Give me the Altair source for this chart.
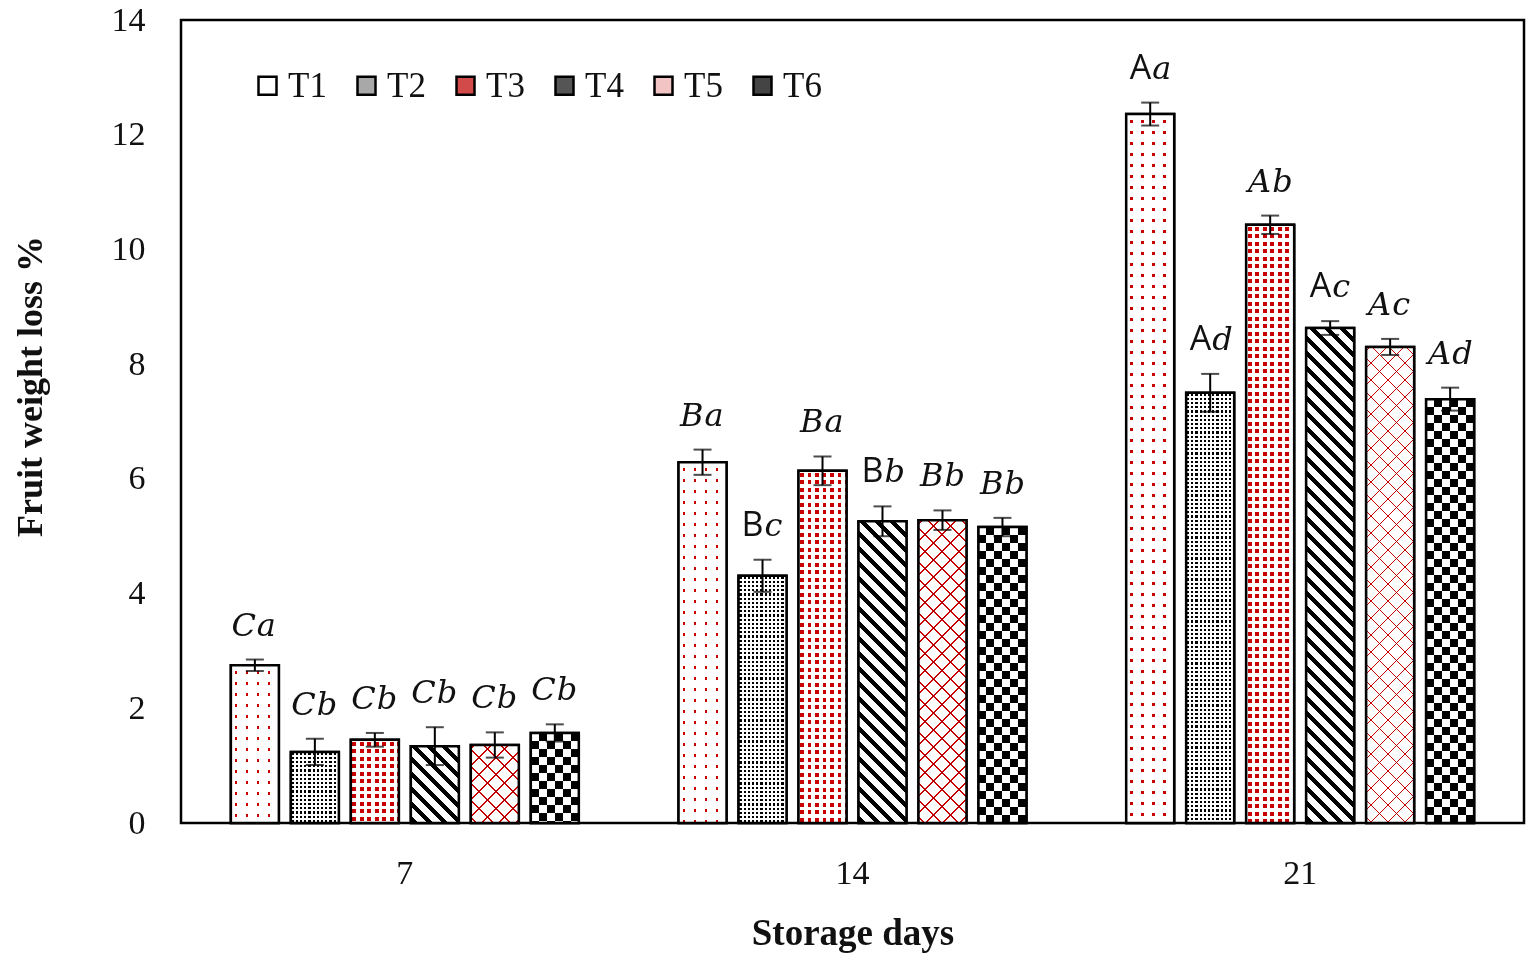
import math
import altair as alt
import pandas as pd

# ---------------- data ----------------
treatments = ["T1", "T2", "T3", "T4", "T5", "T6"]
days = ["7", "14", "21"]

mean_d7 = [2.75, 1.24, 1.45, 1.34, 1.36, 1.57]
err_d7 = [0.10, 0.23, 0.12, 0.33, 0.22, 0.15]
mean_d14 = [6.29, 4.31, 6.14, 5.26, 5.28, 5.16]
err_d14 = [0.22, 0.28, 0.25, 0.26, 0.17, 0.16]
mean_d21 = [12.36, 7.50, 10.43, 8.63, 8.30, 7.39]
err_d21 = [0.20, 0.33, 0.16, 0.12, 0.14, 0.20]

labels_d7 = ["Ca", "Cb", "Cb", "Cb", "Cb", "Cb"]
labels_d14 = ["Ba", "Bc", "Ba", "Bb", "Bb", "Bb"]
labels_d21 = ["Aa", "Ad", "Ab", "Ac", "Ac", "Ad"]
upright_d7 = [False, False, False, False, False, False]
upright_d14 = [False, True, False, True, False, False]
upright_d21 = [True, True, False, True, False, False]

y_ticks = [0, 2, 4, 6, 8, 10, 12, 14]
legend_colors = ["#ffffff", "#a8a8a8", "#d24a4a", "#555555", "#f2c4c4", "#444444"]

rows = []
for d, ms, es, ls, us in [
    ("7", mean_d7, err_d7, labels_d7, upright_d7),
    ("14", mean_d14, err_d14, labels_d14, upright_d14),
    ("21", mean_d21, err_d21, labels_d21, upright_d21),
]:
    for t, m, e, l, u in zip(treatments, ms, es, ls, us):
        rows.append(dict(day=d, trt=t, mean=m, err=e, lo=m - e, hi=m + e,
                         cap=l[0], low=l[1], upright=u))
df = pd.DataFrame(rows)

# ---------------- geometry used only for pattern scaling ----------------
PLOT_W, PLOT_H = 1343, 803
X_PI, X_PO = 0.196, 0.098
O_PI, O_PO = 0.2, 0.1
step_x = PLOT_W / (3 - X_PI + 2 * X_PO)
band_x = step_x * (1 - X_PI)
step_o = band_x / (6 - O_PI + 2 * O_PO)
BAR_W = step_o * (1 - O_PI)
PX_PER_UNIT = PLOT_H / 14.0


def stripe_stops(L, period, on, c_on, c_off, phase=0.0):
    def color_at(x):
        r = (x - phase) % period
        return c_on if r < on else c_off

    bounds = set()
    k = math.floor((0 - phase) / period) - 1
    while phase + k * period <= L:
        for b in (phase + k * period, phase + k * period + on):
            if 0 < b < L:
                bounds.add(round(b, 4))
        k += 1
    bounds = sorted(bounds)
    stops = [alt.GradientStop(offset=0, color=color_at(0.0001))]
    prev = 0.0
    for b in bounds:
        cb = color_at((prev + b) / 2)
        ca = color_at(b + 0.0001)
        o = round(b / L, 6)
        stops.append(alt.GradientStop(offset=o, color=cb))
        stops.append(alt.GradientStop(offset=o, color=ca))
        prev = b
    stops.append(alt.GradientStop(offset=1, color=color_at((prev + L) / 2)))
    return stops


def grad_x(w, period, on, c_on, c_off, phase=0.0):
    return alt.LinearGradient(gradient="linear",
                              stops=stripe_stops(w, period, on, c_on, c_off, phase),
                              x1=0, y1=0, x2=1, y2=0)


def grad_y(h, period, on, c_on, c_off, phase=0.0):
    return alt.LinearGradient(gradient="linear",
                              stops=stripe_stops(h, period, on, c_on, c_off, phase),
                              x1=0, y1=0, x2=0, y2=1)


def grad_diag(w, h, period, on, c_on, c_off, back=True, phase=0.0):
    L = w + h
    if back:  # "\" stripes
        a, b = w / L, -h / L
        x1, y1 = 0.0, 1.0
    else:  # "/" stripes
        a, b = w / L, h / L
        x1, y1 = 0.0, 0.0
    n = a * a + b * b
    dx, dy = a / n, b / n
    return alt.LinearGradient(gradient="linear",
                              stops=stripe_stops(L, period, on, c_on, c_off, phase),
                              x1=x1, y1=y1, x2=round(x1 + dx, 6), y2=round(y1 + dy, 6))


# ---------------- chart ----------------
SERIF = "Liberation Serif"

base = alt.Chart(df).encode(
    x=alt.X("day:N", sort=days,
            scale=alt.Scale(domain=days, paddingInner=X_PI, paddingOuter=X_PO),
            axis=alt.Axis(title="Storage days", labelAngle=0, ticks=False, tickSize=0,
                          domain=False, grid=False, labelPadding=33,
                          labelFont=SERIF, labelFontSize=34, labelColor="#111",
                          titleFont=SERIF, titleFontSize=37, titleFontWeight="bold",
                          titleColor="#111", titleY=121, titleBaseline="alphabetic")),
    xOffset=alt.XOffset("trt:N",
                        scale=alt.Scale(domain=treatments, paddingInner=O_PI, paddingOuter=O_PO)),
)

Y_AXIS = alt.Axis(title="Fruit weight loss %", values=y_ticks, ticks=False,
                  tickSize=0, domain=False, grid=False, labelPadding=36,
                  labelFont=SERIF, labelFontSize=34, labelColor="#111",
                  titleFont=SERIF, titleFontSize=36, titleFontWeight="bold",
                  titleColor="#111", titleAngle=270, titleX=-140, titleY=366,
                  titleBaseline="alphabetic", titleAlign="center")
Y_SCALE = alt.Scale(domain=[0, 14], nice=False, zero=True)


def yenc(field):
    return alt.Y(field, scale=Y_SCALE, axis=Y_AXIS, title="Fruit weight loss %")


bars = base.mark_bar(stroke="black", strokeWidth=2.5).encode(
    y=yenc("mean:Q"),
    fill=alt.Fill("trt:N",
                  scale=alt.Scale(domain=treatments, range=legend_colors),
                  legend=alt.Legend(title=None, orient="none", legendX=69, legendY=48,
                                    direction="horizontal", symbolType="square",
                                    symbolSize=324, symbolStrokeColor="black",
                                    symbolStrokeWidth=2.5, symbolOpacity=1,
                                    labelFont=SERIF, labelFontSize=35, labelColor="#111",
                                    labelOffset=3, columnPadding=22, padding=0)),
)

layers = [bars]


def overlay(day, trt, fill, blend=None):
    kw = dict(fill=fill, strokeWidth=0)
    if blend:
        kw["blend"] = blend
    return (base.transform_filter((alt.datum.day == day) & (alt.datum.trt == trt))
            .mark_bar(**kw).encode(y=yenc("mean:Q")))


RED = "#c80000"
for r in rows:
    d, t = r["day"], r["trt"]
    w = BAR_W
    h = r["mean"] * PX_PER_UNIT
    if t == "T1":
        layers.append(overlay(d, t, grad_x(w, 11, 2.6, "black", "white", 4)))
        layers.append(overlay(d, t, grad_y(h, 11, 2.6, "black", "white", 6), "lighten"))
        layers.append(overlay(d, t, RED, "screen"))
    elif t == "T2":
        layers.append(overlay(d, t, grad_x(w, 4.2, 2.2, "black", "white", 0.8)))
        layers.append(overlay(d, t, grad_y(h, 4.2, 2.2, "black", "white", 0.8), "lighten"))
    elif t == "T3":
        layers.append(overlay(d, t, grad_x(w, 7.5, 3.9, "black", "white", 1.5)))
        layers.append(overlay(d, t, grad_y(h, 7.5, 3.9, "black", "white", 2), "lighten"))
        layers.append(overlay(d, t, RED, "screen"))
    elif t == "T4":
        layers.append(overlay(d, t, grad_diag(w, h, 15, 6, "black", "white", True, 2)))
    elif t == "T5":
        layers.append(overlay(d, t, grad_diag(w, h, 17, 1.6, RED, "white", False, 3)))
        layers.append(overlay(d, t, grad_diag(w, h, 17, 1.6, RED, "white", True, 5), "multiply"))
    elif t == "T6":
        layers.append(overlay(d, t, grad_x(w, 16, 8, "black", "white", 0)))
        layers.append(overlay(d, t, grad_y(h, 16, 8, "white", "black", 0), "difference"))

outline = base.mark_bar(fill="white", fillOpacity=0, stroke="black", strokeWidth=2.5).encode(
    y=yenc("mean:Q"))
layers.append(outline)

stem = base.mark_rule(color="black", strokeWidth=2).encode(
    y=yenc("lo:Q"), y2="hi:Q")
cap_hi = base.mark_tick(orient="horizontal", size=18, thickness=2, color="black").encode(
    y=yenc("hi:Q"))
cap_lo = base.mark_tick(orient="horizontal", size=18, thickness=2, color="black").encode(
    y=yenc("lo:Q"))
layers += [stem, cap_hi, cap_lo]

txt_common = dict(baseline="alphabetic", dy=-24, color="#111")
cap_it = base.transform_filter(alt.datum.upright == False).mark_text(
    font="DejaVu Serif", fontStyle="italic", fontSize=32, align="right", dx=1,
    **txt_common).encode(y=yenc("hi:Q"), text="cap:N")
cap_up = base.transform_filter(alt.datum.upright == True).mark_text(
    font="Open Sans", fontSize=34, align="right", dx=1,
    **txt_common).encode(y=yenc("hi:Q"), text="cap:N")
low_it = base.mark_text(
    font="DejaVu Serif", fontStyle="italic", fontSize=32, align="left", dx=2,
    **txt_common).encode(y=yenc("hi:Q"), text="low:N")
layers += [cap_it, cap_up, low_it]

chart = alt.layer(*layers).properties(
    width=PLOT_W, height=PLOT_H,
    autosize=alt.AutoSizeParams(type="none"),
    padding={"left": 173, "top": 12, "right": 3, "bottom": 130},
    background="white",
).configure_view(stroke="black", strokeWidth=2.5)

chart.save("out.html", embed_options={"renderer": "svg", "actions": False})
